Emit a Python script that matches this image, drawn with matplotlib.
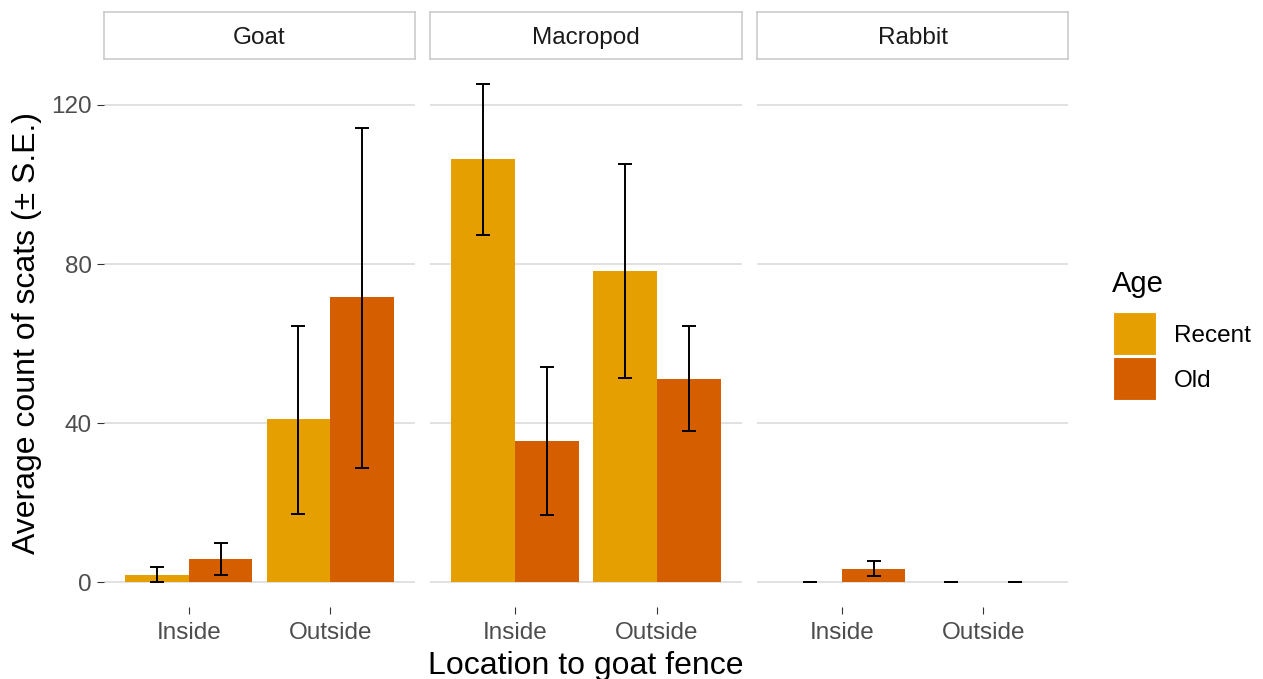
import matplotlib.pyplot as plt
from matplotlib.patches import Rectangle

plt.rcParams['font.family'] = ['Liberation Sans', 'DejaVu Sans']

# data
animals = ['Goat', 'Macropod', 'Rabbit']
locations = ['Inside', 'Outside']
ages = ['Recent', 'Old']
colors = ['#E69F00', '#D55E00']

# mean counts [animal][age][location]
means = {
    'Goat':     {'Recent': [1.8, 41.0],   'Old': [5.8, 71.7]},
    'Macropod': {'Recent': [106.4, 78.2], 'Old': [35.5, 51.1]},
    'Rabbit':   {'Recent': [0.0, 0.0],    'Old': [3.3, 0.0]},
}
# lower / upper ends of the error bars
lows = {
    'Goat':     {'Recent': [0.0, 17.1],   'Old': [1.9, 28.7]},
    'Macropod': {'Recent': [87.3, 51.3],  'Old': [16.9, 38.0]},
    'Rabbit':   {'Recent': [0.0, 0.0],    'Old': [1.5, 0.0]},
}
highs = {
    'Goat':     {'Recent': [3.8, 64.4],   'Old': [9.8, 114.2]},
    'Macropod': {'Recent': [125.3, 105.2], 'Old': [54.1, 64.4]},
    'Rabbit':   {'Recent': [0.0, 0.0],    'Old': [5.3, 0.0]},
}
yticks = [0, 40, 80, 120]

W, H = 1263, 679
fig = plt.figure(figsize=(W / 100, H / 100), dpi=100)


def px_axes(x0, y0, x1, y1):
    return fig.add_axes([x0 / W, 1 - y1 / H, (x1 - x0) / W, (y1 - y0) / H])


panel_x = [(104, 415), (430, 742), (757, 1068)]
panel_top, panel_bot = 59, 607
strip_top = 12

top = max(max(highs[a][g]) for a in animals for g in ages)
pad = top * 0.05
grid_c = '#DEDEDE'
txt_c = '#4D4D4D'

for i, animal in enumerate(animals):
    x0, x1 = panel_x[i]
    ax = px_axes(x0, panel_top, x1, panel_bot)
    for s in ax.spines.values():
        s.set_visible(False)
    ax.set_xlim(0.4, 2.6)
    ax.set_ylim(-pad, top + pad)
    ax.set_yticks(yticks)
    ax.yaxis.grid(True, color=grid_c, linewidth=1.3)
    ax.set_axisbelow(True)
    pos = [1, 2]
    for j, age in enumerate(ages):
        off = -0.225 if j == 0 else 0.225
        xs = [p + off for p in pos]
        m = means[animal][age]
        lo = [mm - l for mm, l in zip(m, lows[animal][age])]
        hi = [h - mm for mm, h in zip(m, highs[animal][age])]
        ax.bar(xs, m, width=0.45, color=colors[j], zorder=2)
        ax.errorbar(xs, m, yerr=[lo, hi], fmt='none', ecolor='black',
                    elinewidth=1.4, capsize=5, capthick=1.4, zorder=3)
    ax.set_xticks(pos)
    ax.set_xticklabels(locations)
    ax.tick_params(axis='both', length=5, width=0.8, color='#333333',
                   labelcolor=txt_c, labelsize=17.5)
    ax.tick_params(axis='x', pad=6)
    ax.tick_params(axis='y', pad=4)
    if i > 0:
        ax.tick_params(axis='y', left=False, labelleft=False)

    sx = px_axes(x0, strip_top, x1, panel_top)
    sx.set_xticks([])
    sx.set_yticks([])
    for s in sx.spines.values():
        s.set_color('#C8C8C8')
        s.set_linewidth(1.1)
    sx.text(0.5, 0.44, animal, ha='center', va='center', fontsize=17.5,
            color='#1A1A1A', transform=sx.transAxes)

fig.text(27 / W, 1 - 333 / H, 'Average count of scats (± S.E.)', rotation=90,
         ha='center', va='center', fontsize=23, color='black')
fig.text(586 / W, 1 - 651 / H, 'Location to goat fence', ha='center', va='top',
         fontsize=23, color='black')

# legend
fig.text(1112 / W, 1 - 292 / H, 'Age', ha='left', va='baseline', fontsize=21)
key_y = [312, 357]
for j, age in enumerate(ages):
    y0 = key_y[j]
    fig.add_artist(Rectangle((1113 / W, 1 - (y0 + 43) / H), 43 / W, 43 / H,
                             transform=fig.transFigure, facecolor=colors[j],
                             edgecolor='white', linewidth=0.8))
    fig.text(1174 / W, 1 - (y0 + 24) / H, age, ha='left', va='center',
             fontsize=17.5, color='black')

fig.savefig('out.png', dpi=100, facecolor='white')
